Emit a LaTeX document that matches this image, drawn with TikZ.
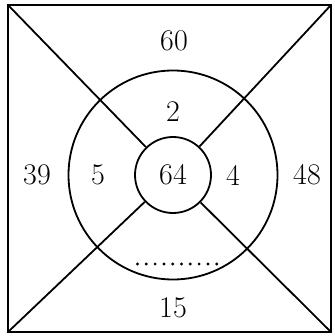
\documentclass[tikz,border=0pt]{standalone}
\usepackage{tikz}
\usetikzlibrary{positioning}

\begin{document}
\begin{tikzpicture}[
  x=1pt,y=-1pt,
  ring/.style={draw,circle,line width=1.8pt,inner sep=0pt},
  num/.style={font=\fontsize{30}{34}\selectfont,inner sep=0pt},
  edge/.style={line width=1.8pt}
]
\useasboundingbox (0,0) rectangle (334,336);
\draw[line width=2.4pt] (8,5) rectangle (331,332);
\coordinate (tl) at (8,5);
\coordinate (tr) at (331,5);
\coordinate (bl) at (8,332);
\coordinate (br) at (331,332);
\node[ring,minimum size=209pt] (outer) at (173,175) {};
\node[ring,minimum size=76pt,num] (inner) at (173,175) {64};
\foreach \c in {tl,tr,bl,br}{
  \draw[edge] (\c) -- (inner);
}
\node[num] (top) at (174,41) {60};
\node[num] (up) at (173,112) {2};
\node[num] (left) at (37,175) {39};
\node[num] (ml) at (98,175) {5};
\node[num] (mr) at (233,175) {4};
\node[num] (right) at (307,175) {48};
\node[num] (bottom) at (173,308) {15};
% missing number
\foreach \i in {0,...,9}{
  \fill (137.5+\i*8.8,264) circle (1.6pt);
}
\end{tikzpicture}
\end{document}
